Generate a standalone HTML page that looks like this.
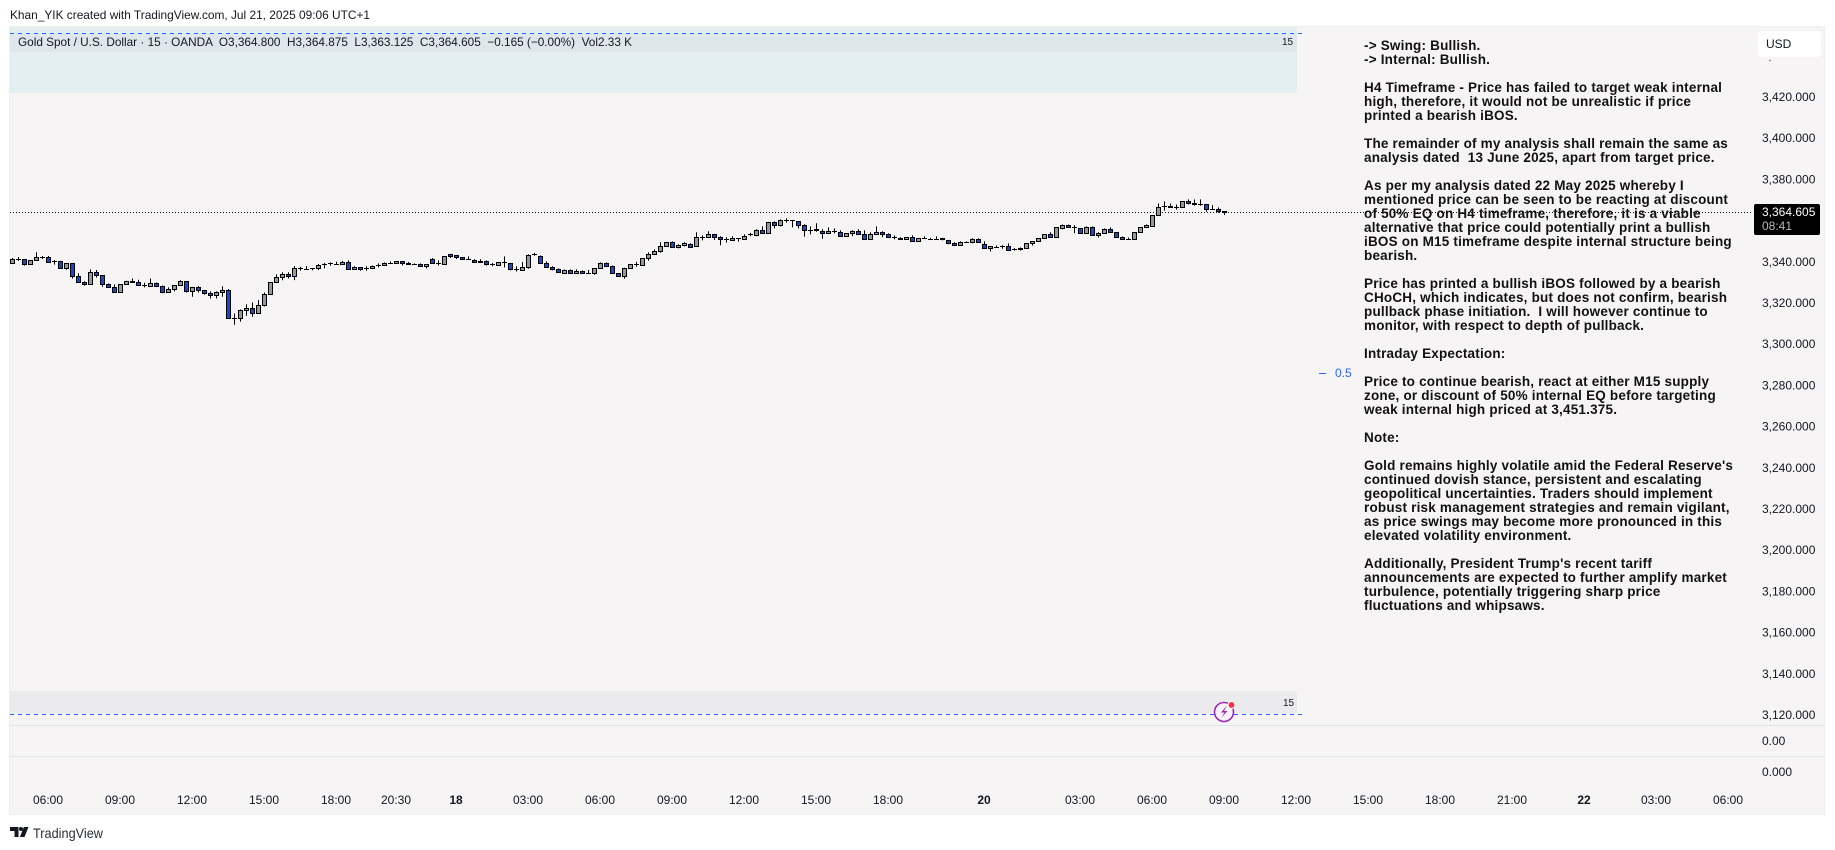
<!DOCTYPE html>
<html lang="en">
<head>
<meta charset="utf-8">
<title>Gold Spot / U.S. Dollar chart</title>
<style>
html,body{margin:0;padding:0;width:1835px;height:850px;overflow:hidden;background:#fff;font-family:"Liberation Sans",sans-serif;color:#131722}
#chart{position:absolute;left:0;top:0;width:1835px;height:850px;display:block}
#note{position:absolute;left:1364px;top:39px;font:bold 13.5px/14px "Liberation Sans",sans-serif;color:#111;white-space:pre;letter-spacing:.2px}
#usd{position:absolute;left:1758px;top:31px;width:63px;height:26px;background:#fff;border-radius:4px;font-size:12px;line-height:26px;text-indent:8px;color:#131722}
#price-tag{position:absolute;left:1754px;top:204px;width:66px;height:31px;background:#000;border-radius:2px;color:#fff;font-size:12px;text-align:left}
#price-tag div{position:absolute;left:8px}
</style>
</head>
<body>
<svg id="chart" xmlns="http://www.w3.org/2000/svg" width="1835" height="850" viewBox="0 0 1835 850">
  <text x="10" y="19" font-size="12" fill="#131722" textLength="360" lengthAdjust="spacingAndGlyphs">Khan_YIK created with TradingView.com, Jul 21, 2025 09:06 UTC+1</text>
  <rect x="9.5" y="26.5" width="1815" height="788" fill="#f6f4f5" stroke="#eeeeee"/>
  <rect x="10" y="27" width="1287" height="66" fill="#e4eff1"/>
  <rect x="10" y="33" width="1287" height="19" fill="#dee8ec"/>
  <rect x="10" y="691" width="1287" height="23" fill="#ebebed"/>
  <line x1="10" x2="1303" y1="33.5" y2="33.5" stroke="#2962ff" stroke-dasharray="4 4"/>
  <line x1="10" x2="1303" y1="714.5" y2="714.5" stroke="#2962ff" stroke-dasharray="4 4"/>
  <line x1="10" x2="1825" y1="725.5" y2="725.5" stroke="#e0e3eb"/>
  <line x1="10" x2="1825" y1="756.5" y2="756.5" stroke="#e0e3eb"/>
  <line x1="10" x2="1752" y1="212.5" y2="212.5" stroke="#111" stroke-dasharray="1 2"/>
  <g id="candles"></g>
  <g id="price-axis"></g>
  <g id="time-axis"></g>
  <text x="18" y="46" font-size="12" fill="#131722" textLength="614" lengthAdjust="spacingAndGlyphs" xml:space="preserve">Gold Spot / U.S. Dollar · 15 · OANDA  O3,364.800  H3,364.875  L3,363.125  C3,364.605  −0.165 (−0.00%)  Vol2.33 K</text>
  <text x="1282" y="45" font-size="10" fill="#131722">15</text>
  <text x="1283" y="706" font-size="10" fill="#131722">15</text>
  <line x1="1319" x2="1326" y1="373.5" y2="373.5" stroke="#2962ff"/>
  <text x="1335" y="377" font-size="12" fill="#2962ff">0.5</text>
  <text x="1762" y="745" font-size="12" fill="#131722">0.00</text>
  <text x="1762" y="776" font-size="12" fill="#131722">0.000</text>
  <g>
    <circle cx="1224" cy="712" r="9.5" fill="#f8f2f9" stroke="#9c27b0" stroke-width="1.6"/>
    <path d="M1227 705.5l-6 7h3.5l-3 5 6-6.5h-3.5z" fill="#9c27b0"/>
    <circle cx="1231.5" cy="705" r="4" fill="#fff"/>
    <circle cx="1231.5" cy="705" r="3" fill="#f23645"/>
  </g>
  <g>
    <path d="M10 827h8.5v10h-4v-6H10zM28.5 827l-4 10h-4.6l4-10z" fill="#131722"/>
    <circle cx="21" cy="829" r="2" fill="#131722"/>
    <text x="33" y="838" font-size="14" fill="#2a2e39" textLength="70" lengthAdjust="spacingAndGlyphs">TradingView</text>
  </g>
  <circle cx="1770" cy="60.5" r=".7" fill="#555"/>
</svg>
<div id="note">-&gt; Swing: Bullish.
-&gt; Internal: Bullish.

H4 Timeframe - Price has failed to target weak internal
high, therefore, it would not be unrealistic if price
printed a bearish iBOS.

The remainder of my analysis shall remain the same as
analysis dated  13 June 2025, apart from target price.

As per my analysis dated 22 May 2025 whereby I
mentioned price can be seen to be reacting at discount
of 50% EQ on H4 timeframe, therefore, it is a viable
alternative that price could potentially print a bullish
iBOS on M15 timeframe despite internal structure being
bearish.

Price has printed a bullish iBOS followed by a bearish
CHoCH, which indicates, but does not confirm, bearish
pullback phase initiation.  I will however continue to
monitor, with respect to depth of pullback.

Intraday Expectation:

Price to continue bearish, react at either M15 supply
zone, or discount of 50% internal EQ before targeting
weak internal high priced at 3,451.375.

Note:

Gold remains highly volatile amid the Federal Reserve's
continued dovish stance, persistent and escalating
geopolitical uncertainties. Traders should implement
robust risk management strategies and remain vigilant,
as price swings may become more pronounced in this
elevated volatility environment.

Additionally, President Trump's recent tariff
announcements are expected to further amplify market
turbulence, potentially triggering sharp price
fluctuations and whipsaws.</div>
<div id="usd">USD</div>
<div id="price-tag">
  <div style="top:1px;line-height:14px">3,364.605</div>
  <div style="top:15px;line-height:14px;color:#b8b8b8">08:41</div>
</div>
<script>
const opens = [
3339.7,3341.8,3341.7,3339.2,3341.0,3342.8,3342.6,3340.7,3340.7,3337.1,
3339.7,3333.4,3330.3,3329.5,3335.4,3333.9,3329.5,3328.1,3325.6,3329.5,
3331.0,3330.5,3329.2,3328.6,3330.0,3328.6,3325.6,3327.1,3329.0,3331.0,
3326.1,3328.1,3326.6,3325.2,3324.2,3325.6,3326.6,3313.0,3313.0,3316.9,
3317.9,3315.4,3319.3,3324.7,3330.5,3332.9,3334.4,3333.4,3337.0,3336.8,
3337.3,3337.1,3339.1,3339.6,3339.2,3339.2,3340.2,3336.6,3337.8,3337.3,
3337.3,3338.7,3338.7,3339.7,3339.6,3340.7,3339.9,3339.2,3339.2,3338.1,
3341.7,3339.7,3339.2,3343.8,3343.6,3342.6,3341.7,3341.2,3340.7,3340.7,
3339.2,3338.7,3340.2,3339.7,3336.8,3336.3,3337.8,3343.8,3343.1,3339.7,
3337.8,3336.8,3335.0,3336.3,3334.9,3335.8,3334.9,3334.9,3337.3,3339.7,
3338.3,3334.9,3333.4,3337.3,3339.4,3338.7,3342.1,3344.1,3345.4,3348.0,
3350.0,3347.5,3348.5,3349.0,3348.0,3352.4,3352.4,3353.8,3352.4,3351.4,
3350.9,3351.9,3351.4,3353.5,3353.3,3355.8,3354.3,3359.7,3358.2,3360.6,
3360.5,3360.1,3358.2,3355.8,3356.0,3355.3,3354.3,3355.3,3354.8,3352.9,
3354.3,3355.3,3353.8,3351.4,3353.8,3354.8,3353.8,3352.4,3351.9,3351.4,
3352.4,3350.4,3351.9,3351.4,3351.4,3351.6,3350.9,3349.5,3348.5,3350.0,
3350.0,3351.4,3349.0,3346.8,3347.5,3347.8,3347.8,3346.5,3346.8,3346.8,
3349.4,3350.4,3351.8,3353.8,3352.3,3356.7,3358.1,3357.2,3356.7,3354.3,
3357.2,3353.3,3354.3,3356.2,3354.8,3352.3,3351.4,3351.4,3354.8,3357.2,
3357.7,3363.0,3367.2,3367.4,3366.9,3366.9,3369.8,3368.6,3368.3,3368.3,3365.9,3365.9,3364.800];
const highs = [
3342.3,3342.8,3341.7,3341.2,3345.1,3343.3,3343.3,3341.3,3341.0,3339.7,
3339.7,3334.9,3331.0,3336.8,3336.5,3333.9,3330.0,3329.5,3329.5,3331.3,
3332.4,3331.8,3330.3,3332.4,3330.5,3329.0,3328.1,3329.0,3331.5,3331.0,
3328.1,3328.7,3326.6,3326.1,3326.1,3328.6,3327.3,3315.4,3317.4,3319.8,
3320.8,3321.9,3325.6,3330.5,3334.4,3335.4,3335.4,3338.3,3338.1,3338.4,
3337.3,3339.4,3339.9,3340.2,3340.5,3341.0,3341.2,3338.3,3337.8,3338.3,
3338.7,3339.7,3340.2,3340.7,3340.7,3340.7,3340.4,3339.7,3339.7,3339.2,
3342.3,3341.2,3343.1,3344.4,3343.6,3342.6,3343.1,3341.7,3341.7,3341.2,
3339.9,3340.2,3343.1,3339.7,3338.3,3340.4,3344.1,3344.9,3343.6,3340.7,
3338.3,3337.3,3336.8,3336.8,3336.8,3336.3,3336.5,3337.1,3340.2,3340.2,
3338.7,3334.9,3337.6,3339.2,3340.5,3342.1,3345.1,3346.5,3350.0,3350.0,
3350.4,3349.0,3350.0,3349.5,3354.8,3353.3,3355.3,3353.8,3352.9,3352.4,
3352.9,3351.9,3353.8,3354.5,3356.3,3357.7,3359.7,3360.1,3361.1,3361.6,
3360.5,3360.1,3358.7,3357.7,3359.2,3356.3,3357.2,3356.7,3355.8,3354.3,
3355.8,3356.3,3355.8,3354.8,3357.7,3355.3,3354.3,3353.3,3352.4,3352.4,
3353.3,3351.9,3352.9,3352.1,3352.9,3352.1,3350.9,3350.0,3350.4,3350.4,
3351.9,3351.9,3350.4,3347.8,3348.4,3348.6,3349.4,3347.1,3347.5,3349.4,
3350.4,3351.8,3353.8,3354.8,3357.2,3358.6,3358.6,3358.3,3356.7,3357.7,
3357.7,3354.8,3356.7,3357.2,3354.8,3352.8,3352.3,3354.8,3357.2,3358.6,
3363.0,3368.8,3369.8,3368.8,3368.3,3369.8,3370.8,3370.8,3370.8,3368.3,3368.0,3366.9,3364.875];
const lows = [
3339.7,3341.0,3338.6,3339.2,3341.0,3341.8,3339.9,3339.1,3337.1,3336.6,
3332.3,3330.5,3328.9,3329.5,3332.8,3328.4,3328.1,3325.6,3325.6,3329.5,
3330.5,3329.0,3328.1,3328.6,3328.6,3325.2,3325.6,3326.1,3329.0,3325.6,
3323.5,3325.6,3324.5,3322.7,3322.7,3323.5,3313.0,3309.9,3311.4,3314.3,
3313.8,3315.4,3318.8,3324.7,3330.5,3331.5,3332.4,3331.6,3336.2,3336.6,
3336.3,3336.5,3337.3,3338.6,3339.2,3339.2,3336.6,3336.6,3336.2,3336.2,
3337.0,3337.8,3338.6,3339.6,3339.6,3338.7,3339.1,3339.1,3338.1,3337.3,
3339.6,3338.7,3339.2,3342.3,3341.8,3341.7,3341.3,3340.0,3340.2,3338.7,
3338.3,3338.7,3337.8,3336.3,3335.8,3336.3,3337.1,3343.4,3339.7,3337.8,
3336.3,3335.4,3334.5,3334.9,3334.9,3334.9,3334.7,3334.2,3337.3,3338.3,
3334.5,3333.4,3332.3,3337.3,3338.1,3338.7,3341.0,3344.1,3344.9,3348.0,
3347.5,3347.0,3348.0,3347.5,3348.0,3350.9,3352.4,3351.1,3348.5,3349.8,
3350.9,3350.3,3351.4,3352.9,3352.9,3354.3,3354.3,3356.7,3357.6,3359.5,
3357.2,3356.7,3352.7,3353.8,3355.1,3351.7,3354.3,3354.3,3352.9,3352.9,
3352.9,3353.8,3351.4,3351.4,3353.8,3352.4,3352.4,3351.4,3351.4,3351.4,
3350.4,3350.4,3351.7,3351.4,3351.4,3350.9,3349.0,3348.5,3348.5,3349.8,
3349.5,3350.0,3347.0,3345.5,3347.3,3346.8,3345.9,3345.9,3345.9,3346.8,
3348.4,3350.4,3351.8,3352.3,3352.3,3356.2,3357.2,3354.4,3354.3,3354.3,
3353.3,3352.3,3354.3,3354.8,3352.3,3351.4,3351.2,3351.4,3354.8,3357.2,
3357.7,3363.0,3365.3,3366.9,3365.8,3366.9,3368.3,3367.7,3367.7,3364.8,3365.8,3364.3,3363.125];
const closes = [
3341.7,3341.8,3339.1,3341.2,3342.6,3342.8,3340.2,3340.7,3337.3,3339.7,
3333.4,3330.5,3329.5,3335.4,3333.9,3329.5,3328.1,3325.6,3329.5,3331.0,
3330.5,3329.0,3329.2,3330.0,3328.6,3325.6,3327.1,3329.0,3331.0,3326.0,
3328.1,3326.6,3325.2,3324.0,3325.6,3326.6,3313.0,3313.0,3316.9,3317.9,
3315.4,3319.3,3324.7,3330.5,3332.9,3334.4,3333.4,3337.3,3337.0,3336.8,
3337.3,3338.7,3339.1,3339.6,3339.2,3340.2,3336.6,3337.8,3336.8,3337.3,
3338.3,3338.7,3339.7,3339.7,3340.7,3339.7,3339.4,3339.2,3338.3,3339.2,
3339.7,3339.7,3343.1,3343.0,3342.5,3341.7,3341.7,3340.2,3340.2,3339.2,
3339.2,3340.2,3340.2,3336.8,3336.8,3337.8,3343.6,3343.8,3339.7,3337.8,
3336.8,3335.4,3336.3,3334.9,3335.8,3334.9,3334.9,3337.1,3339.7,3338.3,
3334.9,3333.4,3337.1,3339.2,3339.0,3342.1,3344.1,3345.5,3348.0,3350.0,
3347.5,3348.5,3349.5,3347.5,3352.4,3352.4,3353.8,3352.4,3351.4,3351.1,
3351.9,3351.9,3352.9,3353.5,3355.8,3354.3,3359.7,3358.2,3360.6,3360.3,
3360.5,3358.2,3355.8,3355.8,3355.6,3354.3,3355.3,3355.3,3352.9,3354.3,
3355.3,3353.8,3351.4,3353.8,3354.8,3353.8,3352.4,3352.4,3351.4,3352.4,
3350.4,3351.9,3351.9,3351.4,3351.4,3351.1,3349.5,3348.5,3350.0,3350.0,
3351.4,3350.0,3347.0,3347.8,3347.5,3347.8,3345.9,3346.5,3346.5,3349.4,
3350.4,3351.8,3353.8,3352.3,3357.2,3358.1,3357.2,3357.2,3354.3,3357.2,
3353.3,3354.3,3356.2,3354.8,3352.3,3351.4,3351.4,3354.8,3357.2,3358.1,
3363.0,3366.9,3367.2,3367.0,3366.9,3369.8,3368.8,3368.2,3368.3,3365.9,3365.9,3364.8,3364.605];
const priceTicks = [3420,3400,3380,3340,3320,3300,3280,3260,3240,3220,3200,3180,3160,3140,3120];
const timeLabels = ["06:00","09:00","12:00","15:00","18:00","20:30","18","03:00","06:00","09:00","12:00","15:00","18:00","20","03:00","06:00","09:00","12:00","15:00","18:00","21:00","22","03:00","06:00"];
const timeBars = [6,18,30,42,54,64,74,86,98,110,122,134,146,162,178,190,202,214,226,238,250,262,274,286];
const boldTimeLabels = ["18","20","22"];

const NS = "http://www.w3.org/2000/svg";
const xScale = i => 12.5 + 6 * i;
const yScale = p => 98 + (3420 - p) * 2.06;
const snap = v => Math.round(v - 0.5) + 0.5;

function make(tag, attrs, parent) {
  const el = document.createElementNS(NS, tag);
  for (const k in attrs) el.setAttribute(k, attrs[k]);
  parent.appendChild(el);
  return el;
}

const candleLayer = document.getElementById("candles");
opens.forEach((open, i) => {
  const close = closes[i];
  const cx = xScale(i);
  const yTop = snap(yScale(Math.max(open, close)));
  const yBot = snap(yScale(Math.min(open, close)));
  const group = make("g", {}, candleLayer);
  
  
  make("line", {x1: cx, x2: cx, y1: yScale(highs[i]), y2: yScale(lows[i]), stroke: "#000", "stroke-width": 1}, group);
  if (yBot - yTop < 1) {
    make("line", {x1: cx - 2.5, x2: cx + 2.5, y1: yTop, y2: yTop, stroke: "#000", "stroke-width": 1}, group);
  } else {
    make("rect", {x: cx - 2, y: yTop, width: 4, height: yBot - yTop, fill: close >= open ? "#9598a1" : "#1848cc", stroke: "#000", "stroke-width": 1}, group);
  }
});

const priceLayer = document.getElementById("price-axis");
priceTicks.forEach(p => {
  const label = make("text", {x: 1762, y: yScale(p) + 3, "font-size": 12, fill: "#131722"}, priceLayer);
  
  
  label.textContent = p.toLocaleString("en-US") + ".000";
});

const timeLayer = document.getElementById("time-axis");
timeLabels.forEach((t, i) => {
  const label = make("text", {x: xScale(timeBars[i]) - 0.5, y: 804, "font-size": 12, fill: "#131722", "text-anchor": "middle", "font-weight": boldTimeLabels.includes(t) ? "bold" : "normal"}, timeLayer);
  
  
  label.textContent = t;
});
</script>
</body>
</html>
